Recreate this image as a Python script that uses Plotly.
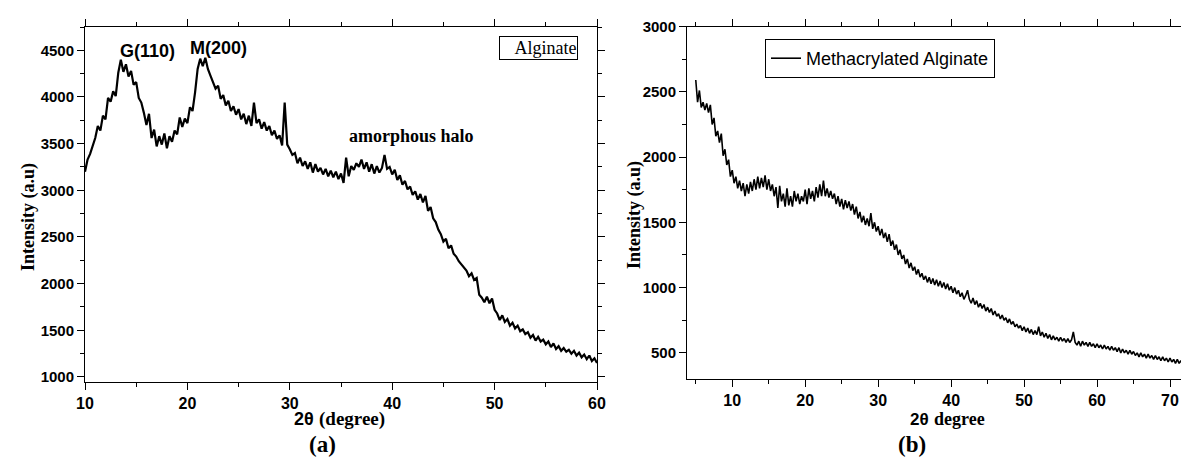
import plotly.graph_objects as go

# ---------------- data ----------------
# (a) Alginate: 2-theta scan from 10 to 60 deg, step 0.25 deg
start_a, step_a = 10.0, 0.25
intensity_a = [
    3200, 3330, 3390, 3480, 3560, 3690, 3640, 3800, 3760, 3990, 3950, 4060, 4010, 4260, 4400, 4270, 4350, 4220, 4280, 4130,
    4160, 3990, 3940, 3830, 3700, 3820, 3560, 3650, 3470, 3580, 3490, 3610, 3450, 3580, 3520, 3640, 3600, 3780, 3680, 3770,
    3720, 3890, 3850, 4050, 4300, 4410, 4330, 4420, 4300, 4230, 4160, 4090, 4120, 3980, 4020, 3910, 3960, 3850, 3900, 3810,
    3870, 3760, 3820, 3710, 3800, 3690, 3940, 3720, 3760, 3660, 3730, 3640, 3690, 3590, 3640, 3550, 3590, 3480, 3940, 3490,
    3440, 3380, 3400, 3290, 3350, 3260, 3310, 3230, 3300, 3190, 3280, 3200, 3240, 3170, 3230, 3150, 3210, 3140, 3200, 3120,
    3180, 3080, 3350, 3150, 3260, 3220, 3290, 3250, 3330, 3230, 3300, 3200, 3280, 3180, 3260, 3190, 3240, 3380, 3230, 3250,
    3170, 3220, 3110, 3160, 3060, 3100, 3010, 3040, 2950, 2990, 2900, 2960, 2870, 2940, 2780, 2820, 2700, 2660, 2580, 2530,
    2450, 2480, 2380, 2410, 2320, 2290, 2240, 2210, 2170, 2140, 2080, 2110, 2040, 2060, 1880, 1850, 1800, 1860, 1790, 1840,
    1720, 1680, 1610, 1660, 1590, 1620, 1550, 1580, 1520, 1550, 1490, 1510, 1460, 1480, 1420, 1450, 1390, 1430, 1380, 1400,
    1350, 1380, 1320, 1360, 1300, 1330, 1280, 1310, 1270, 1290, 1250, 1280, 1230, 1260, 1210, 1240, 1190, 1230, 1170, 1200,
    1150,
]
two_theta_a = [start_a + step_a * i for i in range(len(intensity_a))]

# (b) Methacrylated Alginate: 2-theta scan from 5 to 73.75 deg, step 0.25 deg
start_b, step_b = 5.0, 0.25
intensity_b = [
    2590, 2420, 2510, 2380, 2420, 2360, 2410, 2340, 2400, 2250, 2300, 2160, 2200, 2110, 2180, 2010, 2060, 1940, 1980, 1850,
    1900, 1800, 1850, 1760, 1820, 1740, 1800, 1700, 1790, 1720, 1810, 1740, 1830, 1750, 1850, 1760, 1840, 1770, 1860, 1750,
    1830, 1740, 1790, 1700, 1770, 1610, 1780, 1660, 1720, 1620, 1760, 1630, 1700, 1620, 1740, 1660, 1720, 1640, 1700, 1660,
    1750, 1640, 1760, 1680, 1740, 1660, 1770, 1690, 1790, 1700, 1820, 1700, 1760, 1690, 1740, 1680, 1720, 1640, 1700, 1620,
    1680, 1600, 1670, 1610, 1660, 1590, 1640, 1560, 1620, 1530, 1580, 1500, 1550, 1480, 1530, 1470, 1570, 1450, 1500, 1430,
    1470, 1400, 1450, 1380, 1420, 1350, 1410, 1320, 1360, 1290, 1330, 1250, 1290, 1220, 1250, 1180, 1220, 1150, 1190, 1130,
    1160, 1100, 1140, 1080, 1110, 1060, 1090, 1040, 1080, 1030, 1070, 1020, 1060, 1010, 1050, 1000, 1040, 990, 1030, 980,
    1010, 960, 1000, 950, 980, 930, 960, 910, 940, 980, 910, 880, 920, 870, 900, 850, 880, 840, 870, 820,
    850, 810, 840, 790, 820, 780, 800, 760, 790, 750, 770, 730, 760, 720, 740, 700, 720, 690, 710, 670,
    700, 660, 690, 650, 680, 640, 670, 640, 700, 630, 660, 620, 650, 610, 640, 600, 630, 600, 620, 590,
    620, 590, 610, 580, 610, 580, 600, 660, 580, 560, 590, 550, 590, 560, 580, 550, 580, 550, 570, 540,
    570, 540, 560, 530, 560, 530, 550, 520, 550, 520, 540, 510, 540, 500, 530, 500, 520, 490, 520, 490,
    510, 480, 500, 470, 500, 470, 490, 460, 490, 460, 480, 450, 480, 450, 470, 440, 470, 440, 460, 430,
    460, 430, 450, 420, 450, 420, 440, 410, 450, 420, 440, 410, 440, 410, 430, 420,
]
two_theta_b = [start_b + step_b * i for i in range(len(intensity_b))]

x_ticks_a = [10, 20, 30, 40, 50, 60]
y_ticks_a = [1000, 1500, 2000, 2500, 3000, 3500, 4000, 4500]
x_ticks_b = [10, 20, 30, 40, 50, 60, 70]
y_ticks_b = [500, 1000, 1500, 2000, 2500, 3000]

peak_labels = ["G(110)", "M(200)"]
peak_pos = [(16.15, 4490), (23.0, 4530)]
halo_label = "amorphous halo"
halo_pos = (41.9, 3580)

# ---------------- figure ----------------
SANS = "Liberation Sans, Arial, sans-serif"
SERIF = "Liberation Serif, Times New Roman, serif"
W, H = 1189, 457

fig = go.Figure()
fig.add_trace(go.Scatter(x=two_theta_a, y=intensity_a, mode="lines",
                         line=dict(color="black", width=2.2),
                         xaxis="x", yaxis="y", showlegend=False, name="Alginate"))
fig.add_trace(go.Scatter(x=two_theta_b, y=intensity_b, mode="lines",
                         line=dict(color="black", width=1.6),
                         xaxis="x2", yaxis="y2", name="Methacrylated Alginate",
                         legend="legend"))

tickfont = dict(family=SANS, size=16, color="black", weight="bold")
ytickfont = dict(family=SANS, size=15, color="black", weight="bold")

common_axis = dict(showline=True, linecolor="black", linewidth=1, showgrid=False,
                   zeroline=False, ticks="outside", ticklen=7, tickcolor="black",
                   mirror="allticks", automargin=False)

fig.update_layout(
    width=W, height=H,
    margin=dict(l=0, r=0, t=0, b=0),
    paper_bgcolor="white", plot_bgcolor="white",
    xaxis=dict(domain=[77 / W, 589 / W], range=[10, 60], tickvals=x_ticks_a,
               tickfont=tickfont, minor=dict(dtick=5, tick0=0, ticks="outside", ticklen=4, tickcolor="black"),
               anchor="y", **common_axis),
    yaxis=dict(domain=[1 - 374 / H, 1 - 19 / H], range=[946, 4750], tickvals=y_ticks_a,
               tickfont=ytickfont, minor=dict(dtick=250, tick0=0, ticks="outside", ticklen=4, tickcolor="black"),
               anchor="x", **common_axis),
    xaxis2=dict(domain=[679 / W, 1.0], range=[3.8, 73.7], tickvals=x_ticks_b,
                tickfont=tickfont, minor=dict(dtick=5, tick0=0, ticks="outside", ticklen=4, tickcolor="black"),
                anchor="y2", **common_axis),
    yaxis2=dict(domain=[1 - 371 / H, 1 - 18.5 / H], range=[300, 3000], tickvals=y_ticks_b,
                tickfont=ytickfont, minor=dict(dtick=250, tick0=0, ticks="outside", ticklen=4, tickcolor="black"),
                anchor="x2", **common_axis),
    legend=dict(x=757 / W, y=1 - 31 / H, xanchor="left", yanchor="top",
                bordercolor="black", borderwidth=1, bgcolor="white",
                font=dict(family=SANS, size=18, color="black"),
                tracegroupgap=0),
)


def paper_text(cx, cy, text, font, xanchor="center", **kw):
    d = dict(x=cx / W, y=1 - cy / H, xref="paper", yref="paper", text=text, showarrow=False,
             xanchor=xanchor, yanchor="middle", font=font)
    d.update(kw)
    return d


bold_serif = lambda s: dict(family=SERIF, size=s, color="black", weight="bold")
bold_sans = lambda s: dict(family=SANS, size=s, color="black", weight="bold")

ann = []
for txt, (px, py) in zip(peak_labels, peak_pos):
    ann.append(dict(x=px, y=py, xref="x", yref="y", text=txt, showarrow=False,
                    xanchor="center", yanchor="middle", font=bold_sans(18)))
ann.append(dict(x=halo_pos[0], y=halo_pos[1], xref="x", yref="y", text=halo_label, showarrow=False,
                xanchor="center", yanchor="middle", font=bold_serif(18)))
# Alginate legend box
ann.append(dict(x=570 / W, y=1 - 28 / H, xref="paper", yref="paper", xanchor="right", yanchor="top",
                text="&nbsp;&nbsp;&nbsp;Alginate", showarrow=False, bordercolor="black", borderwidth=1,
                borderpad=1, bgcolor="white", font=dict(family=SERIF, size=18, color="black")))
# axis titles
ann.append(paper_text(20, 209, "Intensity (a.u)", bold_serif(18), textangle=-90))
ann.append(paper_text(626, 207, "Intensity (a.u)", bold_serif(18), textangle=-90))
ann.append(paper_text(308, 411, "2θ", bold_sans(18), xanchor="right"))
ann.append(paper_text(309, 411, "(degree)", bold_serif(19), xanchor="left"))
ann.append(paper_text(923, 411, "2θ", bold_sans(17), xanchor="right"))
ann.append(paper_text(924, 411, "degree", bold_serif(18), xanchor="left"))
ann.append(paper_text(314, 436, "(a)", bold_serif(23)))
ann.append(paper_text(904, 436, "(b)", bold_serif(23)))
fig.update_layout(annotations=ann)

fig.write_html("out.html")
